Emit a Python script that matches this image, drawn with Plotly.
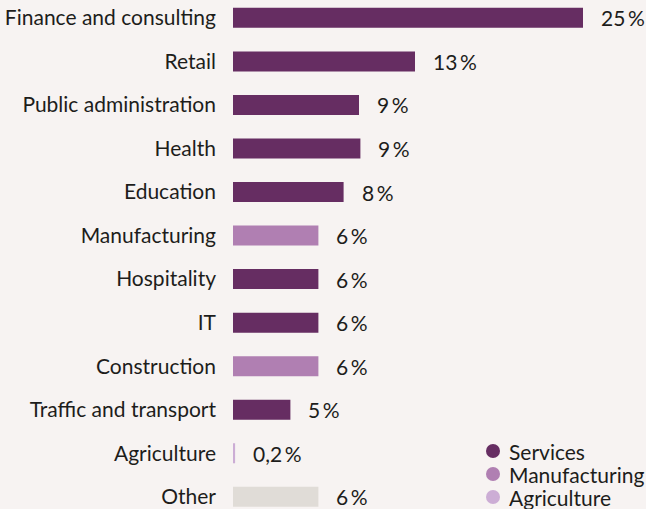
import plotly.graph_objects as go

# data
categories = ["Finance and consulting", "Retail", "Public administration", "Health",
              "Education", "Manufacturing", "Hospitality", "IT", "Construction",
              "Traffic and transport", "Agriculture", "Other"]
values = [25.0, 13.0, 9.0, 9.1, 7.9, 6.1, 6.1, 6.1, 6.1, 4.1, 0.15, 6.1]
value_labels = ["25\u2009%", "13\u2009%", "9\u2009%", "9\u2009%", "8\u2009%", "6\u2009%",
                "6\u2009%", "6\u2009%", "6\u2009%", "5\u2009%", "0,2\u2009%", "6\u2009%"]
sectors = ["Services", "Services", "Services", "Services", "Services", "Manufacturing",
           "Services", "Services", "Manufacturing", "Services", "Agriculture", "Other"]

colors = {
    "Services": "#662d62",
    "Manufacturing": "#b07fb2",
    "Agriculture": "#ccadd5",
    "Other": "#e0dcd7",
}
legend_items = ["Services", "Manufacturing", "Agriculture"]

BG = "#f7f3f2"
TEXT = "#1d1d1b"
FONT = "Lato"
SIZE = 21

W, H = 646, 509
L = 233  # left margin, where the bars start
PW = W - L


def px_x(px):
    return (px - L) / PW


def px_y(py):
    return 1 - py / H


fig = go.Figure()

fig.add_trace(go.Bar(
    x=values,
    y=categories,
    orientation="h",
    marker=dict(color=[colors[s] for s in sectors], line=dict(width=0)),
    width=0.46,
    showlegend=False,
    hoverinfo="skip",
))

# value labels to the right of each bar
for cat, val, lab in zip(categories, values, value_labels):
    fig.add_annotation(
        x=val, y=cat, text=lab, showarrow=False,
        xanchor="left", xshift=16,
        font=dict(family=FONT, size=SIZE, color=TEXT),
    )

# hand-made legend in the bottom right corner (plotly's own legend pushes the margins)
for i, name in enumerate(legend_items):
    cy = 451 + i * 23
    r = 7
    fig.add_shape(
        type="circle", xref="paper", yref="paper",
        x0=px_x(493 - r), x1=px_x(493 + r), y0=px_y(cy + r), y1=px_y(cy - r),
        fillcolor=colors[name], line=dict(width=0),
    )
    fig.add_annotation(
        xref="paper", yref="paper", x=px_x(507), y=px_y(cy),
        text=name, showarrow=False, xanchor="left", yanchor="middle",
        font=dict(family=FONT, size=SIZE, color=TEXT),
    )

fig.update_layout(
    width=W, height=H,
    paper_bgcolor=BG, plot_bgcolor=BG,
    margin=dict(l=L, r=0, t=0, b=0),
    font=dict(family=FONT, size=SIZE, color=TEXT),
    showlegend=False,
    xaxis=dict(range=[0, PW / 14], visible=False, showgrid=False, zeroline=False),
    yaxis=dict(
        categoryorder="array", categoryarray=categories,
        range=[11.28, -0.41],
        showgrid=False, zeroline=False, showline=False,
        ticks="", ticklabelstandoff=16,
        tickfont=dict(family=FONT, size=SIZE, color=TEXT),
    ),
)

fig.write_html("out.html", config={"displayModeBar": False},
               post_script="document.body.style.margin='0';")
